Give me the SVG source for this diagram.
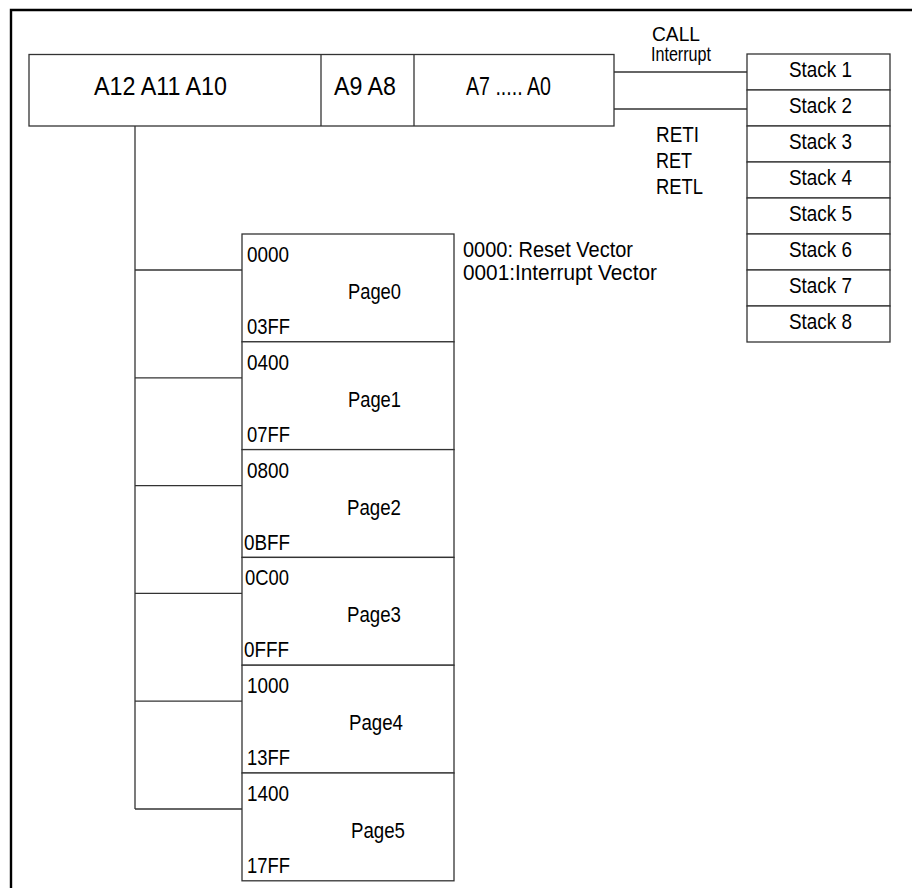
<svg xmlns="http://www.w3.org/2000/svg" width="912" height="888" viewBox="0 0 912 888">
<style>
  .box { fill: #ffffff; stroke: #333333; stroke-width: 1.3; }
  .ln { fill: none; stroke: #333333; stroke-width: 1.3; }
  text { font-family: "Liberation Sans", Arial, sans-serif; fill: #000000; }
  .t { font-size: 22px; }
  .s { font-size: 20px; }
  .big { font-size: 25px; }
</style>
<rect x="0" y="0" width="912" height="888" fill="#ffffff"/>
<path d="M11 890 V10 H914" fill="none" stroke="#000000" stroke-width="2.4"/>

<g id="address">
  <rect class="box" x="29" y="54.5" width="585" height="71.5"/>
  <line class="ln" x1="321" y1="54.5" x2="321" y2="126"/>
  <line class="ln" x1="414" y1="54.5" x2="414" y2="126"/>
  <text class="big" x="94" y="95" textLength="133" lengthAdjust="spacingAndGlyphs">A12  A11  A10</text>
  <text class="big" x="334" y="95" textLength="62" lengthAdjust="spacingAndGlyphs">A9  A8</text>
  <text class="big" x="466" y="95" textLength="85" lengthAdjust="spacingAndGlyphs">A7 ..... A0</text>
</g>

<g id="connectors">
  <line class="ln" x1="614" y1="72" x2="747" y2="72"/>
  <line class="ln" x1="614" y1="109" x2="747" y2="109"/>
  <line class="ln" x1="135" y1="126" x2="135" y2="809"/>
  <line class="ln" x1="135" y1="270" x2="242" y2="270"/>
  <line class="ln" x1="135" y1="377.8" x2="242" y2="377.8"/>
  <line class="ln" x1="135" y1="485.6" x2="242" y2="485.6"/>
  <line class="ln" x1="135" y1="593.4" x2="242" y2="593.4"/>
  <line class="ln" x1="135" y1="701.2" x2="242" y2="701.2"/>
  <line class="ln" x1="135" y1="809" x2="242" y2="809"/>
</g>

<g id="labels">
  <text class="s" x="652" y="41" textLength="48" lengthAdjust="spacingAndGlyphs">CALL</text>
  <text class="s" x="651" y="61" textLength="60" lengthAdjust="spacingAndGlyphs">Interrupt</text>
  <text class="t" x="656" y="142" textLength="43" lengthAdjust="spacingAndGlyphs">RETI</text>
  <text class="t" x="656" y="168" textLength="36" lengthAdjust="spacingAndGlyphs">RET</text>
  <text class="t" x="656" y="194" textLength="47" lengthAdjust="spacingAndGlyphs">RETL</text>
  <text class="t" x="463" y="257" textLength="170" lengthAdjust="spacingAndGlyphs">0000: Reset Vector</text>
  <text class="t" x="463" y="280" textLength="194" lengthAdjust="spacingAndGlyphs">0001:Interrupt Vector</text>
</g>

<g id="stack">
  <rect class="box" x="747" y="54" width="143" height="36"/>
  <rect class="box" x="747" y="90" width="143" height="36"/>
  <rect class="box" x="747" y="126" width="143" height="36"/>
  <rect class="box" x="747" y="162" width="143" height="36"/>
  <rect class="box" x="747" y="198" width="143" height="36"/>
  <rect class="box" x="747" y="234" width="143" height="36"/>
  <rect class="box" x="747" y="270" width="143" height="36"/>
  <rect class="box" x="747" y="306" width="143" height="36"/>
  <text class="t" x="789" y="77" textLength="63" lengthAdjust="spacingAndGlyphs">Stack 1</text>
  <text class="t" x="789" y="113" textLength="63" lengthAdjust="spacingAndGlyphs">Stack 2</text>
  <text class="t" x="789" y="149" textLength="63" lengthAdjust="spacingAndGlyphs">Stack 3</text>
  <text class="t" x="789" y="185" textLength="63" lengthAdjust="spacingAndGlyphs">Stack 4</text>
  <text class="t" x="789" y="221" textLength="63" lengthAdjust="spacingAndGlyphs">Stack 5</text>
  <text class="t" x="789" y="257" textLength="63" lengthAdjust="spacingAndGlyphs">Stack 6</text>
  <text class="t" x="789" y="293" textLength="63" lengthAdjust="spacingAndGlyphs">Stack 7</text>
  <text class="t" x="789" y="329" textLength="63" lengthAdjust="spacingAndGlyphs">Stack 8</text>
</g>

<g id="page0">
  <rect class="box" x="242" y="234" width="212" height="107.8"/>
  <text class="t" x="247" y="262" textLength="42" lengthAdjust="spacingAndGlyphs">0000</text>
  <text class="t" x="348" y="299" textLength="53" lengthAdjust="spacingAndGlyphs">Page0</text>
  <text class="t" x="247" y="334" textLength="43" lengthAdjust="spacingAndGlyphs">03FF</text>
</g>
<g id="page1">
  <rect class="box" x="242" y="341.8" width="212" height="107.8"/>
  <text class="t" x="247" y="369.8" textLength="42" lengthAdjust="spacingAndGlyphs">0400</text>
  <text class="t" x="348" y="406.8" textLength="53" lengthAdjust="spacingAndGlyphs">Page1</text>
  <text class="t" x="247" y="441.8" textLength="43" lengthAdjust="spacingAndGlyphs">07FF</text>
</g>
<g id="page2">
  <rect class="box" x="242" y="449.6" width="212" height="107.8"/>
  <text class="t" x="247" y="477.6" textLength="42" lengthAdjust="spacingAndGlyphs">0800</text>
  <text class="t" x="347" y="514.6" textLength="54" lengthAdjust="spacingAndGlyphs">Page2</text>
  <text class="t" x="244" y="549.6" textLength="46" lengthAdjust="spacingAndGlyphs">0BFF</text>
</g>
<g id="page3">
  <rect class="box" x="242" y="557.4" width="212" height="107.8"/>
  <text class="t" x="245" y="585.4" textLength="44" lengthAdjust="spacingAndGlyphs">0C00</text>
  <text class="t" x="347" y="622.4" textLength="54" lengthAdjust="spacingAndGlyphs">Page3</text>
  <text class="t" x="244" y="657.4" textLength="45" lengthAdjust="spacingAndGlyphs">0FFF</text>
</g>
<g id="page4">
  <rect class="box" x="242" y="665.2" width="212" height="107.8"/>
  <text class="t" x="247" y="693.2" textLength="42" lengthAdjust="spacingAndGlyphs">1000</text>
  <text class="t" x="349" y="730.2" textLength="54" lengthAdjust="spacingAndGlyphs">Page4</text>
  <text class="t" x="247" y="765.2" textLength="43" lengthAdjust="spacingAndGlyphs">13FF</text>
</g>
<g id="page5">
  <rect class="box" x="242" y="773" width="212" height="107.8"/>
  <text class="t" x="247" y="801" textLength="42" lengthAdjust="spacingAndGlyphs">1400</text>
  <text class="t" x="351" y="838" textLength="54" lengthAdjust="spacingAndGlyphs">Page5</text>
  <text class="t" x="247" y="873" textLength="43" lengthAdjust="spacingAndGlyphs">17FF</text>
</g>
</svg>
